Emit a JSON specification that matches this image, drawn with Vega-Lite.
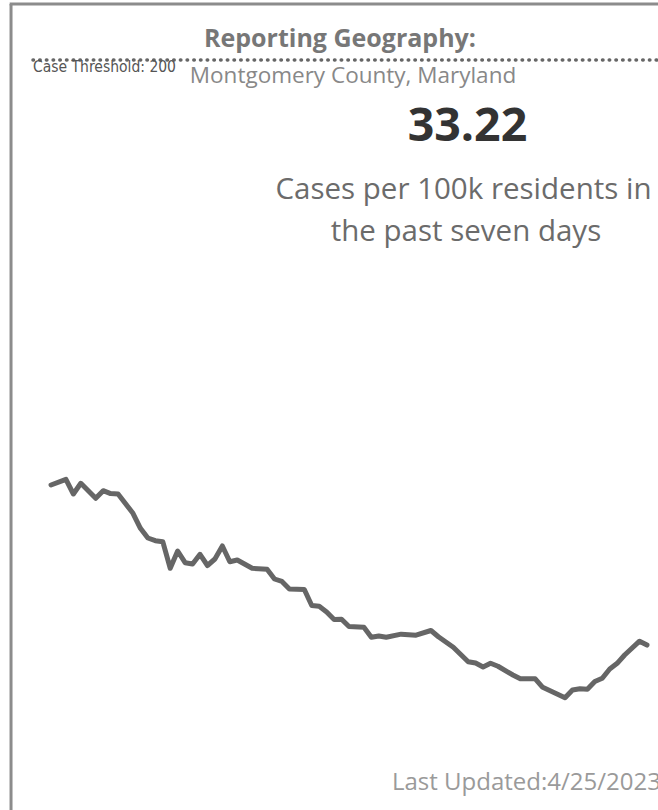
{
  "$schema": "https://vega.github.io/schema/vega-lite/v6.json",
  "autosize": {"type": "none"},
  "padding": 0,
  "width": 658,
  "height": 810,
  "background": "white",
  "config": {"view": {"stroke": null}, "axis": {"disable": true}},
  "layer": [
    {
      "data": {"values": [{}]},
      "mark": {"type": "rule", "color": "#8c8c8c", "strokeWidth": 3},
      "encoding": {
        "x": {"datum": -5.37, "type": "quantitative"},
        "y": {"datum": 215.97, "type": "quantitative"},
        "y2": {"datum": -13.8}
      }
    },
    {
      "data": {"values": [{}]},
      "mark": {"type": "rule", "color": "#8c8c8c", "strokeWidth": 3},
      "encoding": {
        "y": {"datum": 215.97, "type": "quantitative"},
        "x": {"datum": -5.55, "type": "quantitative"},
        "x2": {"datum": 81.48}
      }
    },
    {
      "data": {"values": [
        {"day": 0, "value": 78.85}, {"day": 2, "value": 80.47}, {"day": 3, "value": 76.28},
        {"day": 4, "value": 79.33}, {"day": 6, "value": 75.06}, {"day": 7, "value": 77.22},
        {"day": 8, "value": 76.4}, {"day": 9, "value": 76.28}, {"day": 11, "value": 70.78},
        {"day": 12, "value": 66.51}, {"day": 13, "value": 63.74}, {"day": 14, "value": 62.97},
        {"day": 15, "value": 62.69}, {"day": 16, "value": 55.1}, {"day": 17, "value": 60.03},
        {"day": 18, "value": 56.7}, {"day": 19, "value": 56.33}, {"day": 20, "value": 59.09},
        {"day": 21, "value": 55.9}, {"day": 22, "value": 57.75}, {"day": 23, "value": 61.46},
        {"day": 24, "value": 56.98}, {"day": 25, "value": 57.47}, {"day": 27, "value": 55.1},
        {"day": 29, "value": 54.82}, {"day": 30, "value": 52.05}, {"day": 31, "value": 51.34},
        {"day": 32, "value": 49.2}, {"day": 34, "value": 49.06}, {"day": 35, "value": 44.5},
        {"day": 36, "value": 44.27}, {"day": 37, "value": 42.65}, {"day": 38, "value": 40.51},
        {"day": 39, "value": 40.59}, {"day": 40, "value": 38.51}, {"day": 42, "value": 38.28},
        {"day": 43, "value": 35.43}, {"day": 44, "value": 35.8}, {"day": 45, "value": 35.43},
        {"day": 47, "value": 36.32}, {"day": 49, "value": 36.03}, {"day": 51, "value": 37.37},
        {"day": 52, "value": 35.58}, {"day": 54, "value": 32.58}, {"day": 56, "value": 28.48},
        {"day": 57, "value": 28.11}, {"day": 58, "value": 26.97}, {"day": 59, "value": 28.02},
        {"day": 60, "value": 27.17}, {"day": 62, "value": 24.69}, {"day": 63, "value": 23.6},
        {"day": 65, "value": 23.6}, {"day": 66, "value": 21.18}, {"day": 67, "value": 20.21},
        {"day": 69, "value": 18.19}, {"day": 70, "value": 20.41}, {"day": 71, "value": 20.75},
        {"day": 72, "value": 20.61}, {"day": 73, "value": 22.83}, {"day": 74, "value": 23.75},
        {"day": 75, "value": 26.4}, {"day": 76, "value": 28.02}, {"day": 77, "value": 30.39},
        {"day": 79, "value": 34.32}, {"day": 80, "value": 33.22}
      ]},
      "mark": {"type": "line", "color": "#666666", "strokeWidth": 5, "strokeJoin": "round", "strokeCap": "round"},
      "encoding": {
        "x": {"field": "day", "type": "quantitative", "axis": null,
              "scale": {"domain": [-6.85, 81.48], "nice": false, "zero": false}},
        "y": {"field": "value", "type": "quantitative", "axis": null,
              "scale": {"domain": [-13.8, 217.1], "nice": false, "zero": false}}
      }
    },
    {
      "data": {"values": [{"threshold": 200}]},
      "mark": {"type": "rule", "color": "#666666", "strokeWidth": 3.5, "strokeDash": [0.5, 6.2], "strokeCap": "round"},
      "encoding": {
        "y": {"field": "threshold", "type": "quantitative"},
        "x": {"datum": -2.42, "type": "quantitative"},
        "x2": {"datum": 81.48}
      }
    },
    {
      "data": {"values": [{"label": "Case Threshold: 200"}]},
      "mark": {"type": "text", "align": "left", "baseline": "middle", "font": "DejaVu Sans Condensed", "fontSize": 15.5, "color": "#555555"},
      "encoding": {
        "text": {"field": "label"},
        "x": {"datum": -2.42, "type": "quantitative"},
        "y": {"datum": 197.9, "type": "quantitative"}
      }
    },
    {
      "data": {"values": [{"label": "Reporting Geography:"}]},
      "mark": {"type": "text", "align": "center", "baseline": "middle", "font": "Open Sans", "fontWeight": "bold", "fontSize": 25, "color": "#777777"},
      "encoding": {
        "text": {"field": "label"},
        "x": {"datum": 38.79, "type": "quantitative"},
        "y": {"datum": 206.1, "type": "quantitative"}
      }
    },
    {
      "data": {"values": [{"label": "Montgomery County, Maryland"}]},
      "mark": {"type": "text", "align": "center", "baseline": "middle", "font": "Open Sans", "fontSize": 22.5, "color": "#888888"},
      "encoding": {
        "text": {"field": "label"},
        "x": {"datum": 40.54, "type": "quantitative"},
        "y": {"datum": 195.5, "type": "quantitative"}
      }
    },
    {
      "data": {"values": [{"label": "33.22"}]},
      "mark": {"type": "text", "align": "center", "baseline": "middle", "font": "Open Sans", "fontWeight": "bold", "fontSize": 46.5, "color": "#333333"},
      "encoding": {
        "text": {"field": "label"},
        "x": {"datum": 55.9, "type": "quantitative"},
        "y": {"datum": 180.9, "type": "quantitative"}
      }
    },
    {
      "data": {"values": [{"label": "Cases per 100k residents in"}]},
      "mark": {"type": "text", "align": "center", "baseline": "middle", "font": "Open Sans", "fontSize": 29.5, "color": "#6b6b6b"},
      "encoding": {
        "text": {"field": "label"},
        "x": {"datum": 55.37, "type": "quantitative"},
        "y": {"datum": 162.9, "type": "quantitative"}
      }
    },
    {
      "data": {"values": [{"label": "the past seven days"}]},
      "mark": {"type": "text", "align": "center", "baseline": "middle", "font": "Open Sans", "fontSize": 29.5, "color": "#6b6b6b"},
      "encoding": {
        "text": {"field": "label"},
        "x": {"datum": 55.7, "type": "quantitative"},
        "y": {"datum": 150.97, "type": "quantitative"}
      }
    },
    {
      "data": {"values": [{"label": "Last Updated:4/25/2023"}]},
      "mark": {"type": "text", "align": "left", "baseline": "middle", "font": "Open Sans", "fontSize": 24, "color": "#9a9a9a"},
      "encoding": {
        "text": {"field": "label"},
        "x": {"datum": 45.77, "type": "quantitative"},
        "y": {"datum": -6.1, "type": "quantitative"}
      }
    }
  ]
}
